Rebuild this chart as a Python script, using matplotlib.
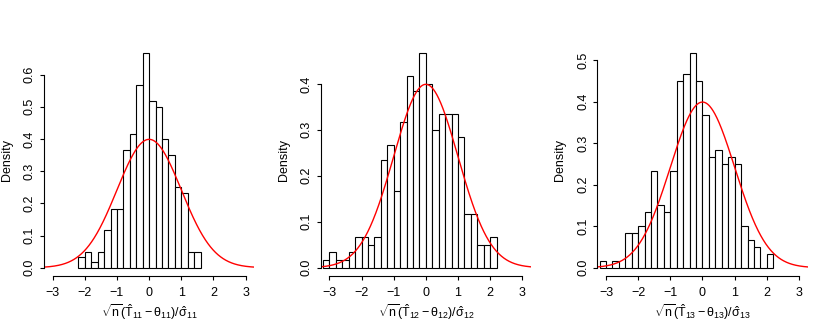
import numpy as np
import matplotlib
matplotlib.use("Agg")
import matplotlib.pyplot as plt
from matplotlib.ticker import FormatStrFormatter

plt.rcParams['font.family'] = ['Liberation Sans', 'DejaVu Sans']
plt.rcParams['mathtext.fontset'] = 'custom'
plt.rcParams['mathtext.rm'] = 'Liberation Sans'
plt.rcParams['mathtext.it'] = 'Liberation Sans:italic'
plt.rcParams['mathtext.bf'] = 'Liberation Sans:bold'
plt.rcParams['mathtext.sf'] = 'Liberation Sans'

# ---- data (histogram counts, n = 300 per panel, bin width 0.2) ----
bin_width = 0.2

start_11 = -2.2
counts_11 = [2, 3, 1, 3, 7, 11, 11, 22, 25, 34, 40, 31, 30, 24, 21, 15, 14, 3, 3]

start_12 = -3.2
counts_12 = [1, 2, 1, 1, 2, 4, 4, 3, 4, 14, 16, 10, 19, 25, 23, 28, 24, 18, 20,
             20, 20, 17, 7, 7, 3, 3, 4]

start_13 = -3.2
counts_13 = [1, 0, 1, 0, 5, 5, 6, 8, 14, 9, 8, 14, 27, 28, 31, 27, 22, 16, 17,
             15, 16, 15, 6, 4, 3, 0, 2]

xlabels = [r'$\sqrt{\mathrm{n}}(\hat{\mathrm{T}}_{11} - \mathrm{\theta}_{11})/\hat{\mathrm{\sigma}}_{11}$',
           r'$\sqrt{\mathrm{n}}(\hat{\mathrm{T}}_{12} - \mathrm{\theta}_{12})/\hat{\mathrm{\sigma}}_{12}$',
           r'$\sqrt{\mathrm{n}}(\hat{\mathrm{T}}_{13} - \mathrm{\theta}_{13})/\hat{\mathrm{\sigma}}_{13}$']
ylabel = 'Density'
x_ticks = [-3, -2, -1, 0, 1, 2, 3]
y_top_ticks = [0.6, 0.4, 0.5]

panels = [(start_11, counts_11), (start_12, counts_12), (start_13, counts_13)]

W, H = 830, 332
fig = plt.figure(figsize=(W / 100, H / 100), dpi=100)

fs = 9
xlim = (-3.27, 3.27)

for i, ((start, counts), xl, ytop) in enumerate(zip(panels, xlabels, y_top_ticks)):
    left = (44 + i * 276.67) / W
    ax = fig.add_axes([left, 1 - 276.3 / H, 210.3 / W, (276.3 - 44.6) / H])
    counts = np.asarray(counts, dtype=float)
    edges = start + bin_width * np.arange(len(counts) + 1)
    centers = (edges[:-1] + edges[1:]) / 2
    dens, _, _ = ax.hist(centers, bins=edges, weights=counts, density=True,
                         facecolor='white', edgecolor='black', linewidth=0.8)
    ymax = dens.max()
    xs = np.linspace(xlim[0], xlim[1], 500)
    ax.plot(xs, np.exp(-xs ** 2 / 2) / np.sqrt(2 * np.pi), color='red', lw=1.0)

    ax.set_xlim(*xlim)
    ax.set_ylim(-0.04 * ymax, 1.04 * ymax)
    ax.set_xticks(x_ticks)
    yt = np.round(np.arange(0, ytop + 0.001, 0.1), 1)
    ax.set_yticks(yt)
    ax.yaxis.set_major_formatter(FormatStrFormatter('%.1f'))
    for s in ['top', 'right']:
        ax.spines[s].set_visible(False)
    ax.spines['left'].set_bounds(0, ytop)
    ax.spines['bottom'].set_bounds(-3, 3)
    for s in ['left', 'bottom']:
        ax.spines[s].set_linewidth(0.8)
    ax.tick_params(axis='both', direction='out', length=3, width=0.8,
                   labelsize=fs)
    ax.tick_params(axis='x', pad=5)
    ax.tick_params(axis='y', pad=3)
    for lab in ax.get_yticklabels():
        lab.set_rotation(90)
        lab.set_va('center')
    ax.patch.set_visible(False)
    ax.text(-0.176, 0.5, ylabel, rotation=90, ha='center', va='center',
            transform=ax.transAxes, fontsize=fs)
    ax.text(0.5, -0.153, xl, ha='center', va='center',
            transform=ax.transAxes, fontsize=fs)

fig.savefig('out.png', dpi=100)
